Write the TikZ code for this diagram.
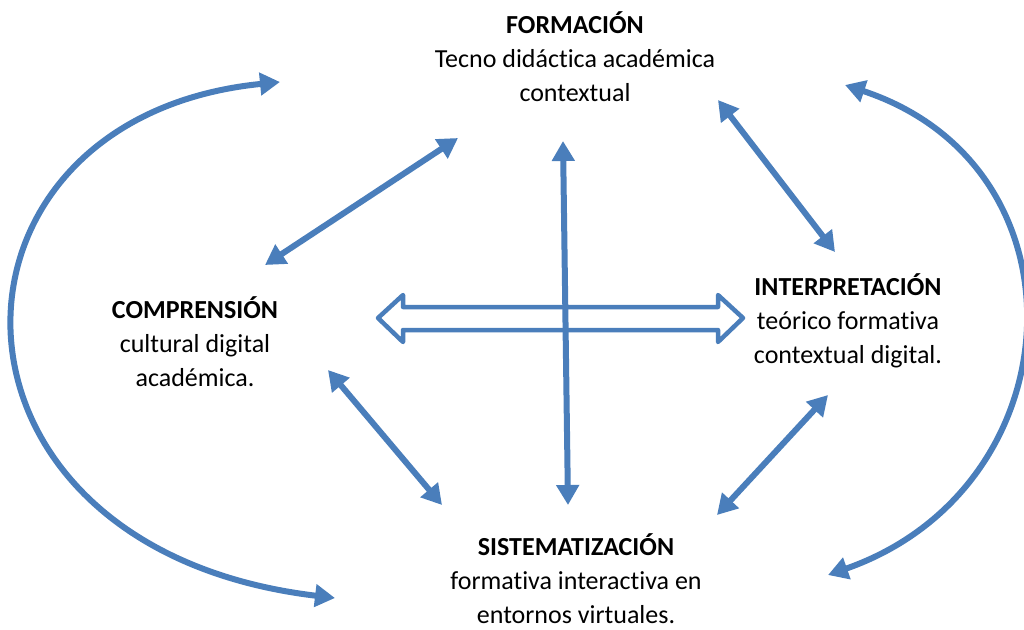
\documentclass[tikz,border=0pt]{standalone}
\usepackage{fontspec}
\setmainfont{Carlito}[Ligatures=NoCommon]
\usetikzlibrary{arrows.meta}

\definecolor{azul}{RGB}{74,126,187}
\tikzset{
  flecha/.style={azul,line width=6pt,
    {Triangle[length=20pt,width=22pt]}-{Triangle[length=20pt,width=22pt]}},
  texto/.style={align=center,inner sep=0pt,
    font=\fontsize{26}{34}\selectfont}
}

\begin{document}
\begin{tikzpicture}[x=1pt,y=-1pt]
    \useasboundingbox (0,0) rectangle (1024,629);

    % the four stages
    \node [texto] (form) at (575,57) {\textbf{FORMACIÓN}\\Tecno didáctica académica\\contextual};
    \node [texto] (comp) at (195,342) {\textbf{COMPRENSIÓN}\\cultural digital\\académica.};
    \node [texto] (inter) at (848,321) {\textbf{INTERPRETACIÓN}\\teórico formativa\\contextual digital.};
    \node [texto] (sist) at (576,579) {\textbf{SISTEMATIZACIÓN}\\formativa interactiva en\\entornos virtuales.};

    % arrow ends
    \coordinate (a1) at (265,265);  \coordinate (a2) at (458,138);
    \coordinate (b1) at (718,100);  \coordinate (b2) at (835,252);
    \coordinate (c1) at (328,370);  \coordinate (c2) at (442,505);
    \coordinate (d1) at (828,395);  \coordinate (d2) at (717,515);
    \coordinate (v1) at (563,141);  \coordinate (v2) at (568,505);
    \coordinate (l1) at (335,598);  \coordinate (l2) at (280,82);
    \coordinate (r1) at (845,85);   \coordinate (r2) at (828,575);

    % hollow double arrow
    \draw [azul,line width=4.5pt,line join=round]
        (378,318) -- (403,295) -- (403,307) -- (718,307) -- (718,295)
        -- (743,318) -- (718,342) -- (718,330) -- (403,330) -- (403,342) -- cycle;

    \draw [flecha] (a1) -- (a2);
    \draw [flecha] (b1) -- (b2);
    \draw [flecha] (c1) -- (c2);
    \draw [flecha] (d1) -- (d2);
    \draw [flecha] (v1) -- (v2);

    % outer loops
    \draw [flecha] (l1) .. controls (-84,548) and (-80,118) .. (l2);
    \draw [flecha] (r1) .. controls (1093,167) and (1076,488) .. (r2);
\end{tikzpicture}
\end{document}
